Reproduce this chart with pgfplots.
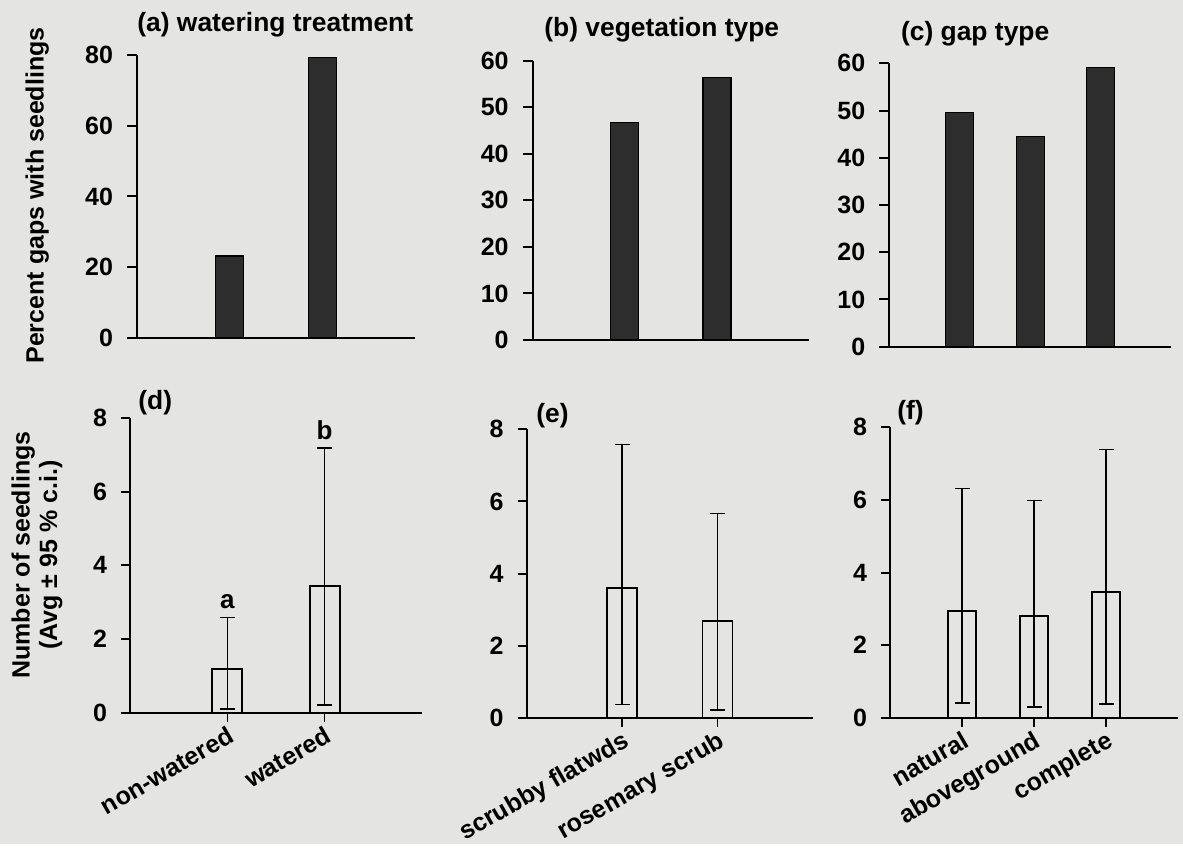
\documentclass[border=0pt]{standalone}
\usepackage{fontspec}
\setmainfont{Liberation Sans}
\usepackage{pgfplots}
\usepackage{pgfplotstable}
\pgfplotsset{compat=1.18}
\definecolor{paper}{RGB}{228,228,226}
\definecolor{barfill}{RGB}{45,45,45}

\pgfplotstableread{
x y
1 23.2
2 79.3
}\dataA
\pgfplotstableread{
x y
1 46.7
2 56.4
}\dataB
\pgfplotstableread{
x y
1 49.6
2 44.5
3 59.1
}\dataC
\pgfplotstableread{
x y ep em
1 1.19 1.40 1.08
2 3.44 3.74 3.22
}\dataD
\pgfplotstableread{
x y ep em
1 3.59 3.99 3.22
2 2.69 2.98 2.48
}\dataE
\pgfplotstableread{
x y ep em
1 2.95 3.37 2.55
2 2.81 3.17 2.51
3 3.47 3.92 3.09
}\dataF

\pgfplotsset{
  base/.style={
    scale only axis,
    anchor=south west,
    axis x line=bottom, axis y line=left,
    axis line style={-, line width=1.1pt},
    tick style={black, line width=1pt},
    major tick length=5pt,
    tick align=outside,
    xmin=0, ymin=0,
    /pgf/number format/assume math mode=true,
    tick label style={font=\fontsize{12.5}{14}\selectfont\bfseries},
    yticklabel style={xshift=-3.5pt},
    clip=false,
  },
  toprow/.style={base, xtick=\empty},
  botrow/.style={base, xtick={1,2,3}, ymax=8, ytick={0,2,4,6,8},
    major tick length=4.5pt,
    x tick style={line width=0.8pt},
    xticklabel style={rotate=30, anchor=north east, inner sep=1pt}},
  blackbar/.style={ybar, bar width=14pt, fill=barfill, draw=black, line width=0.6pt},
  openbar/.style={ybar, bar width=#1, fill=none, draw=black, line width=0.9pt,
    error bars/.cd, y dir=both, y explicit,
    error bar style={line width=0.7pt, black},
    error mark options={rotate=90, line width=0.7pt, mark size=3.75pt, black}},
  openbar/.default=15pt,
}

\begin{document}
\begin{tikzpicture}[x=1pt,y=1pt]
\fill[paper] (0,0) rectangle (591.5,422);

% (a)
\begin{axis}[toprow, at={(68.5pt,253pt)}, width=139pt, height=141.5pt,
  xmax=3, ymax=80, ytick={0,20,40,60,80}]
\addplot[blackbar] table[x=x,y=y] {\dataA};
\end{axis}
% (b)
\begin{axis}[toprow, at={(266.35pt,252pt)}, width=138.15pt, height=139.65pt,
  xmax=3, ymax=60, ytick={0,10,...,60}]
\addplot[blackbar] table[x=x,y=y] {\dataB};
\end{axis}
% (c)
\begin{axis}[toprow, at={(444.65pt,248.65pt)}, width=140.85pt, height=141.7pt,
  xmax=4, ymax=60, ytick={0,10,...,60}]
\addplot[blackbar] table[x=x,y=y] {\dataC};
\end{axis}
% (d)
\begin{axis}[botrow, at={(65pt,65.5pt)}, width=146pt, height=147.65pt,
  xmax=3, xtick={1,2}, xticklabels={non-watered,watered}]
\addplot[openbar] table[x=x,y=y,y error plus=ep,y error minus=em] {\dataD};
\node[anchor=base, inner sep=0pt, font=\fontsize{13}{15}\selectfont\bfseries] at (axis cs:1,2.84) {a};
\node[anchor=base, inner sep=0pt, font=\fontsize{13}{15}\selectfont\bfseries] at (axis cs:2,7.40) {b};
\end{axis}
% (e)
\begin{axis}[botrow, at={(263.35pt,63.15pt)}, width=143.15pt, height=144.2pt,
  xmax=3, xtick={1,2}, xticklabels={scrubby flatwds,rosemary scrub}]
\addplot[openbar] table[x=x,y=y,y error plus=ep,y error minus=em] {\dataE};
\end{axis}
% (f)
\begin{axis}[botrow, at={(445pt,63.15pt)}, width=144pt, height=145.2pt,
  xmax=4, xtick={1,2,3}, xticklabels={natural,aboveground,complete}]
\addplot[openbar=14pt] table[x=x,y=y,y error plus=ep,y error minus=em] {\dataF};
\end{axis}

% titles and panel letters
\begin{scope}[every node/.style={inner sep=0pt, font=\fontsize{13.2}{15}\selectfont\bfseries}]
\node[anchor=base west] at (68.5,406) {(a) watering treatment};
\node[anchor=base west] at (272,403.5) {(b) vegetation type};
\node[anchor=base west] at (450.35,401.5) {(c) gap type};
\node[anchor=base west] at (69,217) {(d)};
\node[anchor=base west] at (268,210.5) {(e)};
\node[anchor=base west] at (448.5,212) {(f)};
\end{scope}

% y labels
\node[rotate=90, inner sep=0pt, font=\fontsize{12.5}{14}\selectfont\bfseries] at (18.6,324.25) {Percent gaps with seedlings};
\node[rotate=90, inner sep=0pt, align=center, font=\fontsize{12.5}{13.8}\selectfont\bfseries] at (18.5,144.5) {Number of seedlings\\(Avg ± 95 \% c.i.)};
\end{tikzpicture}
\end{document}
